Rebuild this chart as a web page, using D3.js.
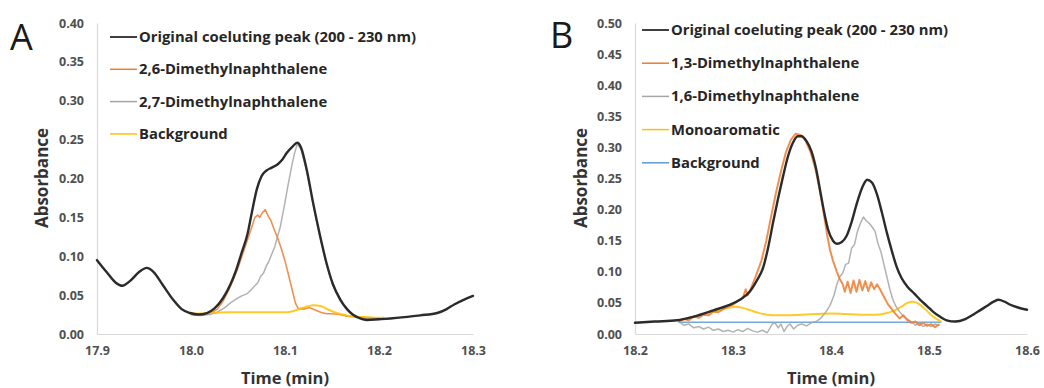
<!DOCTYPE html>
<html>
<head>
<meta charset="utf-8">
<script src="https://cdn.jsdelivr.net/npm/d3@7"></script>
<style>
  html, body { margin: 0; padding: 0; background: #fff; }
  svg { display: block; }
  text { font-family: "Open Sans", "Liberation Sans", sans-serif; }
</style>
</head>
<body>
<svg id="chart" width="1044" height="388"></svg>
<script>
// ---------- Panel A: 2,6- / 2,7-dimethylnaphthalene ----------
const aXTicks = [17.9, 18.0, 18.1, 18.2, 18.3];
const aYTicks = [0, 0.05, 0.10, 0.15, 0.20, 0.25, 0.30, 0.35, 0.40];
const aLegend = ["Original coeluting peak (200 - 230 nm)", "2,6-Dimethylnaphthalene", "2,7-Dimethylnaphthalene", "Background"];

const aOriginal = [
  [17.900,0.095],[17.910,0.080],[17.920,0.066],[17.927,0.062],[17.935,0.068],[17.945,0.080],[17.953,0.085],
  [17.960,0.080],[17.970,0.063],[17.981,0.044],[17.990,0.032],[17.999,0.027],[18.008,0.025],[18.017,0.027],
  [18.025,0.033],[18.034,0.046],[18.042,0.064],[18.048,0.082],[18.054,0.105],[18.060,0.128],[18.065,0.158],
  [18.070,0.186],[18.075,0.203],[18.080,0.210],[18.086,0.214],[18.092,0.218],[18.097,0.224],[18.102,0.233],
  [18.108,0.241],[18.113,0.246],[18.117,0.240],[18.123,0.212],[18.130,0.168],[18.137,0.128],[18.144,0.092],
  [18.151,0.064],[18.159,0.044],[18.166,0.032],[18.172,0.025],[18.180,0.020],[18.187,0.018],[18.200,0.019],
  [18.212,0.020],[18.230,0.022],[18.244,0.024],[18.262,0.027],[18.272,0.032],[18.280,0.038],[18.290,0.044],
  [18.300,0.049]
];
const aDmn26 = [
  [18.000,0.025],[18.010,0.024],[18.020,0.026],[18.028,0.032],[18.034,0.042],[18.040,0.056],[18.045,0.070],
  [18.050,0.085],[18.055,0.103],[18.060,0.121],[18.064,0.135],[18.068,0.150],[18.071,0.153],[18.073,0.150],
  [18.076,0.156],[18.079,0.160],[18.082,0.152],[18.085,0.146],[18.088,0.136],[18.092,0.124],[18.096,0.110],
  [18.100,0.094],[18.104,0.075],[18.108,0.055],[18.111,0.040],[18.114,0.033],[18.120,0.032],[18.126,0.034],
  [18.132,0.031],[18.138,0.028],[18.144,0.026],[18.150,0.026],[18.158,0.025],[18.166,0.023],[18.175,0.022],
  [18.185,0.021],[18.195,0.020],[18.200,0.020]
];
const aDmn27 = [
  [18.000,0.025],[18.010,0.024],[18.020,0.025],[18.028,0.028],[18.036,0.034],[18.042,0.040],[18.048,0.045],
  [18.054,0.049],[18.060,0.052],[18.064,0.057],[18.068,0.062],[18.071,0.066],[18.074,0.074],[18.077,0.078],
  [18.080,0.087],[18.083,0.094],[18.086,0.103],[18.089,0.112],[18.092,0.125],[18.095,0.138],[18.099,0.163],
  [18.103,0.190],[18.107,0.215],[18.110,0.232],[18.113,0.244],[18.117,0.238],[18.123,0.210],[18.130,0.166],
  [18.137,0.126],[18.144,0.090],[18.151,0.062],[18.159,0.042],[18.166,0.031],[18.172,0.025],[18.180,0.021],
  [18.190,0.020],[18.200,0.020]
];
const aBackground = [
  [18.000,0.026],[18.020,0.027],[18.040,0.028],[18.060,0.028],[18.080,0.028],[18.100,0.028],[18.110,0.030],
  [18.120,0.034],[18.130,0.037],[18.138,0.036],[18.145,0.032],[18.155,0.027],[18.165,0.024],[18.175,0.022],
  [18.185,0.022],[18.195,0.021],[18.205,0.021]
];

// ---------- Panel B: 1,3- / 1,6-dimethylnaphthalene ----------
const bXTicks = [18.2, 18.3, 18.4, 18.5, 18.6];
const bYTicks = [0, 0.05, 0.10, 0.15, 0.20, 0.25, 0.30, 0.35, 0.40, 0.45, 0.50];
const bLegend = ["Original coeluting peak (200 - 230 nm)", "1,3-Dimethylnaphthalene", "1,6-Dimethylnaphthalene", "Monoaromatic", "Background"];

const bOriginal = [
  [18.200,0.018],[18.220,0.020],[18.243,0.022],[18.260,0.028],[18.280,0.038],[18.295,0.046],[18.307,0.055],
  [18.317,0.068],[18.324,0.085],[18.331,0.108],[18.336,0.140],[18.341,0.180],[18.346,0.218],[18.351,0.253],
  [18.356,0.285],[18.361,0.307],[18.366,0.318],[18.370,0.318],[18.375,0.310],[18.380,0.294],[18.385,0.264],
  [18.389,0.230],[18.393,0.196],[18.397,0.168],[18.402,0.150],[18.406,0.145],[18.411,0.148],[18.416,0.158],
  [18.421,0.180],[18.426,0.208],[18.432,0.236],[18.437,0.248],[18.442,0.243],[18.447,0.224],[18.452,0.195],
  [18.457,0.163],[18.462,0.134],[18.467,0.108],[18.472,0.090],[18.478,0.076],[18.485,0.065],[18.491,0.055],
  [18.498,0.045],[18.504,0.036],[18.511,0.028],[18.518,0.022],[18.527,0.020],[18.537,0.024],[18.545,0.031],
  [18.552,0.038],[18.559,0.045],[18.566,0.052],[18.571,0.055],[18.577,0.052],[18.583,0.047],[18.590,0.043],
  [18.600,0.039]
];
const bDmn13 = [
  [18.245,0.020],[18.250,0.024],[18.255,0.022],[18.260,0.028],[18.265,0.026],[18.270,0.031],[18.275,0.030],
  [18.280,0.036],[18.285,0.035],[18.290,0.040],[18.295,0.044],[18.300,0.047],[18.305,0.053],[18.310,0.058],
  [18.313,0.072],[18.315,0.062],[18.318,0.072],[18.323,0.092],[18.329,0.118],[18.334,0.150],[18.339,0.190],
  [18.344,0.228],[18.349,0.262],[18.354,0.292],[18.359,0.312],[18.364,0.322],[18.369,0.320],[18.374,0.311],
  [18.379,0.293],[18.384,0.266],[18.388,0.236],[18.392,0.200],[18.396,0.160],[18.399,0.135],[18.402,0.118],
  [18.406,0.100],[18.409,0.088],[18.412,0.080],[18.414,0.068],[18.417,0.084],[18.420,0.066],[18.423,0.086],
  [18.426,0.068],[18.429,0.087],[18.432,0.070],[18.435,0.085],[18.438,0.069],[18.441,0.083],[18.444,0.072],
  [18.447,0.080],[18.450,0.072],[18.454,0.060],[18.458,0.048],[18.462,0.040],[18.466,0.032],[18.470,0.025],
  [18.474,0.030],[18.478,0.022],[18.482,0.018],[18.486,0.020],[18.490,0.014],[18.494,0.018],[18.498,0.013],
  [18.502,0.016],[18.506,0.011],[18.510,0.015]
];
const bDmn16 = [
  [18.245,0.020],[18.250,0.014],[18.255,0.016],[18.260,0.010],[18.265,0.012],[18.270,0.008],[18.275,0.011],
  [18.280,0.006],[18.285,0.008],[18.290,0.004],[18.295,0.006],[18.300,0.003],[18.305,0.007],[18.310,0.004],
  [18.315,0.009],[18.320,0.005],[18.325,0.003],[18.330,0.006],[18.335,0.002],[18.340,0.016],[18.343,0.018],
  [18.346,0.010],[18.349,0.016],[18.352,0.004],[18.355,0.012],[18.358,0.016],[18.362,0.008],[18.366,0.014],
  [18.370,0.016],[18.375,0.013],[18.380,0.018],[18.385,0.020],[18.390,0.026],[18.395,0.036],[18.399,0.046],
  [18.403,0.062],[18.406,0.080],[18.409,0.092],[18.412,0.098],[18.415,0.112],[18.418,0.114],[18.421,0.138],
  [18.424,0.144],[18.427,0.165],[18.430,0.178],[18.433,0.188],[18.436,0.182],[18.439,0.178],[18.442,0.172],
  [18.445,0.165],[18.448,0.145],[18.451,0.132],[18.454,0.112],[18.457,0.092],[18.460,0.072],[18.463,0.056],
  [18.466,0.045],[18.470,0.036],[18.474,0.028],[18.478,0.024],[18.482,0.020],[18.486,0.014],[18.490,0.018],
  [18.494,0.012],[18.498,0.016],[18.502,0.012],[18.506,0.016],[18.510,0.014]
];
const bMonoaromatic = [
  [18.245,0.022],[18.255,0.026],[18.265,0.030],[18.275,0.034],[18.285,0.038],[18.295,0.042],[18.303,0.044],
  [18.310,0.042],[18.318,0.038],[18.326,0.034],[18.335,0.031],[18.345,0.030],[18.355,0.030],[18.370,0.031],
  [18.385,0.032],[18.400,0.033],[18.415,0.032],[18.430,0.031],[18.445,0.031],[18.455,0.033],[18.465,0.038],
  [18.472,0.044],[18.478,0.050],[18.484,0.052],[18.490,0.048],[18.496,0.040],[18.502,0.031],[18.508,0.024],
  [18.512,0.020]
];
const bBackground = [[18.245,0.019],[18.512,0.019]];

// ---------- Styling ----------
const BLACK = "#2b2b2b", ORANGE = "#ED7D31", GRAY = "#A5A5A5", YELLOW = "#FFC000", BLUE = "#5B9BD5";

const panels = [
  {
    letter: "A", letterX: 10, letterY: 50,
    x0: 97, x1: 473, y0: 334, y1: 23,
    xDomain: [17.9, 18.3], yDomain: [0, 0.40],
    xTicks: aXTicks, yTicks: aYTicks,
    titleX: 48, titleY: 178,
    legendX: 110, legendY: 37, legendStep: 32.3,
    series: [
      { name: aLegend[1], data: aDmn26, color: ORANGE, width: 1.6, curve: d3.curveLinear },
      { name: aLegend[2], data: aDmn27, color: GRAY, width: 1.5, curve: d3.curveLinear },
      { name: aLegend[3], data: aBackground, color: YELLOW, width: 2, curve: d3.curveMonotoneX },
      { name: aLegend[0], data: aOriginal, color: BLACK, width: 2.4, curve: d3.curveMonotoneX }
    ],
    legendOrder: [3, 0, 1, 2]
  },
  {
    letter: "B", letterX: 550, letterY: 48,
    x0: 635, x1: 1027, y0: 334, y1: 23,
    xDomain: [18.2, 18.6], yDomain: [0, 0.50],
    xTicks: bXTicks, yTicks: bYTicks,
    titleX: 587, titleY: 178,
    legendX: 642, legendY: 30, legendStep: 33.2,
    series: [
      { name: bLegend[4], data: bBackground, color: BLUE, width: 1.5, curve: d3.curveLinear },
      { name: bLegend[3], data: bMonoaromatic, color: YELLOW, width: 2, curve: d3.curveMonotoneX },
      { name: bLegend[2], data: bDmn16, color: GRAY, width: 1.5, curve: d3.curveLinear },
      { name: bLegend[1], data: bDmn13, color: ORANGE, width: 2, curve: d3.curveLinear },
      { name: bLegend[0], data: bOriginal, color: BLACK, width: 2.4, curve: d3.curveMonotoneX }
    ],
    legendOrder: [4, 3, 2, 1, 0]
  }
];

const svg = d3.select("#chart");
svg.append("rect").attr("width", 1044).attr("height", 388).attr("fill", "#fff");

panels.forEach(p => {
  const x = d3.scaleLinear().domain(p.xDomain).range([p.x0, p.x1]);
  const y = d3.scaleLinear().domain(p.yDomain).range([p.y0, p.y1]);
  const g = svg.append("g");

  // Panel letter
  g.append("text").attr("x", p.letterX).attr("y", p.letterY)
    .attr("font-size", 36).attr("fill", "#1a1a1a").text(p.letter);

  // Y axis
  const yAxis = g.append("g").attr("transform", `translate(${p.x0},0)`)
    .call(d3.axisLeft(y).tickValues(p.yTicks).tickFormat(d3.format(".2f")).tickSize(0).tickPadding(13));
  yAxis.select(".domain").attr("stroke", "#d9d9d9").attr("stroke-width", 1.2);
  yAxis.selectAll("text").attr("font-size", 12.5).attr("font-weight", 700).attr("fill", "#505050")
    .style("font-family", '"Open Sans", sans-serif');

  // X axis
  const xAxis = g.append("g").attr("transform", `translate(0,${p.y0})`)
    .call(d3.axisBottom(x).tickValues(p.xTicks).tickFormat(d3.format(".1f")).tickSize(0).tickPadding(12));
  xAxis.select(".domain").attr("stroke", "#d9d9d9").attr("stroke-width", 1.2);
  xAxis.selectAll("text").attr("font-size", 12.5).attr("font-weight", 700).attr("fill", "#505050")
    .style("font-family", '"Open Sans", sans-serif');

  // Axis titles
  g.append("text").attr("x", (p.x0 + p.x1) / 2).attr("y", 384)
    .attr("text-anchor", "middle").attr("font-size", 16.5).attr("font-weight", 700).attr("fill", "#333")
    .text("Time (min)");
  g.append("text").attr("transform", `translate(${p.titleX},${p.titleY}) rotate(-90)`)
    .attr("text-anchor", "middle").attr("font-size", 17).attr("font-weight", 700).attr("fill", "#333")
    .text("Absorbance");

  // Traces
  p.series.forEach(s => {
    const line = d3.line().x(d => x(d[0])).y(d => y(d[1])).curve(s.curve);
    g.append("path").datum(s.data)
      .attr("d", line).attr("fill", "none")
      .attr("stroke", s.color).attr("stroke-width", s.width)
      .attr("stroke-linejoin", "round").attr("stroke-linecap", "round")
      .attr("opacity", s.color === BLACK ? 1 : 0.85);
  });

  // Legend
  const leg = g.append("g");
  p.legendOrder.forEach((si, i) => {
    const s = p.series[si];
    const cy = p.legendY + i * p.legendStep;
    leg.append("line").attr("x1", p.legendX).attr("x2", p.legendX + 27)
      .attr("y1", cy).attr("y2", cy)
      .attr("stroke", s.color).attr("stroke-width", s.color === BLACK ? 1.8 : 1.5);
    leg.append("text").attr("x", p.legendX + 29).attr("y", cy + 5)
      .attr("font-size", 14.8).attr("font-weight", 700).attr("fill", "#262626")
      .text(s.name);
  });
});
</script>
</body>
</html>
